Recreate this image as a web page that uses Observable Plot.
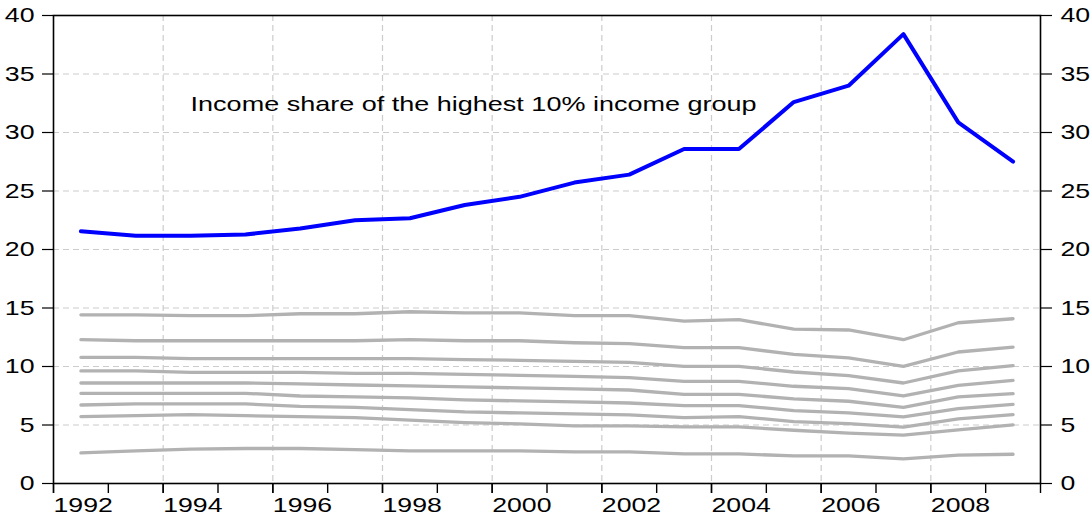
<!DOCTYPE html>
<html>
<head>
<meta charset="utf-8">
<script src="https://cdn.jsdelivr.net/npm/d3@7"></script>
<script src="https://cdn.jsdelivr.net/npm/@observablehq/plot@0.6"></script>
<style>
  html, body { margin: 0; padding: 0; background: #ffffff; }
  #chart svg { display: block; }
</style>
</head>
<body>
<div id="chart"></div>
<script>
// ---- data ----
const years = [1992, 1993, 1994, 1995, 1996, 1997, 1998, 1999, 2000, 2001, 2002, 2003, 2004, 2005, 2006, 2007, 2008, 2009];
const top10 = [21.56, 21.17, 21.17, 21.28, 21.79, 22.50, 22.67, 23.80, 24.50, 25.72, 26.40, 28.59, 28.59, 32.60, 34.00, 38.41, 30.87, 27.51];
const decile9 = [14.42, 14.42, 14.34, 14.34, 14.51, 14.51, 14.68, 14.59, 14.59, 14.34, 14.34, 13.88, 14.00, 13.20, 13.12, 12.29, 13.74, 14.08];
const decile8 = [12.29, 12.20, 12.20, 12.20, 12.20, 12.20, 12.29, 12.20, 12.20, 12.03, 11.95, 11.61, 11.61, 11.04, 10.73, 10.01, 11.24, 11.66];
const decile7 = [10.78, 10.78, 10.67, 10.67, 10.67, 10.67, 10.67, 10.58, 10.53, 10.44, 10.36, 10.01, 10.01, 9.53, 9.22, 8.59, 9.62, 10.07];
const decile6 = [9.62, 9.62, 9.50, 9.50, 9.50, 9.42, 9.42, 9.33, 9.25, 9.16, 9.05, 8.73, 8.73, 8.31, 8.11, 7.48, 8.39, 8.82];
const decile5 = [8.59, 8.59, 8.59, 8.59, 8.51, 8.42, 8.34, 8.25, 8.17, 8.08, 7.99, 7.62, 7.62, 7.23, 7.03, 6.51, 7.40, 7.68];
const decile4 = [7.71, 7.71, 7.71, 7.71, 7.48, 7.40, 7.31, 7.14, 7.06, 6.97, 6.88, 6.66, 6.66, 6.23, 6.03, 5.69, 6.40, 6.77];
const decile3 = [6.71, 6.80, 6.80, 6.80, 6.60, 6.51, 6.32, 6.12, 6.03, 5.95, 5.86, 5.63, 5.72, 5.29, 5.12, 4.81, 5.52, 5.89];
const decile2 = [5.72, 5.80, 5.89, 5.80, 5.72, 5.63, 5.41, 5.21, 5.09, 4.92, 4.92, 4.84, 4.84, 4.55, 4.30, 4.13, 4.58, 5.01];
const decile1 = [2.62, 2.79, 2.93, 2.99, 2.99, 2.90, 2.79, 2.79, 2.79, 2.70, 2.70, 2.53, 2.53, 2.36, 2.36, 2.11, 2.42, 2.50];

const xTickLabels = [1992, 1994, 1996, 1998, 2000, 2002, 2004, 2006, 2008];
const xTickAll = [1992, 1993, 1994, 1995, 1996, 1997, 1998, 1999, 2000, 2001, 2002, 2003, 2004, 2005, 2006, 2007, 2008, 2009, 2010];
const xGrid = [1994, 1996, 1998, 2000, 2002, 2004, 2006, 2008];
const yTicks = [0, 5, 10, 15, 20, 25, 30, 35, 40];
const yGrid = [5, 10, 15, 20, 25, 30, 35];
const annotation = "Income share of the highest 10% income group";
const annotationPos = {year: 1994.50, value: 32.45};

// ---- build tables ----
const toRows = (vals) => years.map((y, i) => ({t: y + 0.5, v: vals[i]}));
const grayLines = [decile9, decile8, decile7, decile6, decile5, decile4, decile3, decile2, decile1].map(toRows);
const blueLine = toRows(top10);

const gray = "#b2b2b2";
const gridStyle = {stroke: "#cccccc", strokeOpacity: 1, strokeWidth: 1.2, strokeDasharray: "6,4"};

const plot = Plot.plot({
  width: 1090,
  height: 517,
  marginLeft: 53,
  marginRight: 50,
  marginTop: 15,
  marginBottom: 34,
  style: {fontFamily: "'Liberation Sans', Arial, sans-serif", fontSize: "21px", background: "#ffffff", color: "#000000"},
  x: {domain: [1992, 2010]},
  y: {domain: [0, 40]},
  marks: [
    Plot.gridY(yGrid, gridStyle),
    Plot.gridX(xGrid, gridStyle),
    ...grayLines.map(rows => Plot.lineY(rows, {x: "t", y: "v", stroke: gray, strokeWidth: 3.3})),
    Plot.lineY(blueLine, {x: "t", y: "v", stroke: "#0000ff", strokeWidth: 4}),
    Plot.text([annotation], {x: () => annotationPos.year, y: () => annotationPos.value, text: d => d, textAnchor: "start", fill: "#000000", className: "annot"}),
    Plot.axisY(yTicks, {anchor: "left", tickSize: 11, tickPadding: 8, label: null, tickFormat: "d", strokeWidth: 1.2}),
    Plot.axisY(yTicks, {anchor: "right", tickSize: 11, tickPadding: 9, label: null, tickFormat: "d", strokeWidth: 1.2}),
    Plot.axisX(xTickAll, {anchor: "bottom", tickSize: 10, tickPadding: 4, label: null, tickFormat: () => "", strokeWidth: 1.4}),
    Plot.axisX(xTickLabels, {anchor: "bottom", tickSize: 10, tickPadding: 4, label: null, tickFormat: "d", textAnchor: "start", strokeWidth: 1.4}),
    Plot.frame({stroke: "#000000", strokeWidth: 1.6})
  ]
});

document.getElementById("chart").appendChild(plot);

// horizontally stretched lettering, as in the reference
plot.querySelectorAll("text").forEach(t => {
  if (!t.textContent) return;
  const len = t.getComputedTextLength();
  if (!len) return;
  const isAnnot = t.textContent === annotation;
  t.setAttribute("lengthAdjust", "spacingAndGlyphs");
  t.setAttribute("textLength", (isAnnot ? 566 : len * 1.27).toFixed(1));
});
</script>
</body>
</html>
